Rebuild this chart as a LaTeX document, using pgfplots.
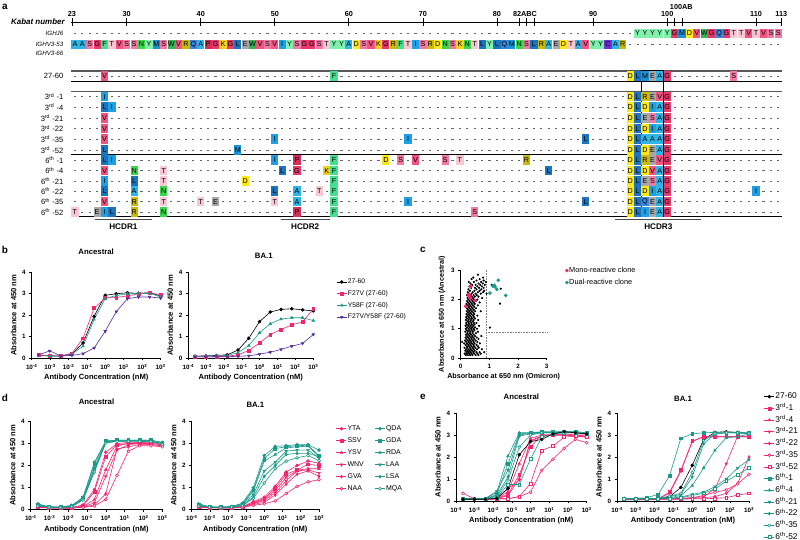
\documentclass[border=0pt]{standalone}
\usepackage{fontspec}
\setmainfont{Liberation Sans}
\usepackage{pgfplots}
\pgfplotsset{compat=1.18}
\usepackage{pgfplotstable}

\definecolor{pinkc}{HTML}{F2266F}
\definecolor{tealc}{HTML}{1B9A8C}
\definecolor{purp}{HTML}{5A2D9C}
\definecolor{rA}{HTML}{2FB4E6}
\definecolor{rC}{HTML}{7030D8}
\definecolor{rD}{HTML}{FFE81A}
\definecolor{rE}{HTML}{A8A8A8}
\definecolor{rF}{HTML}{45E08E}
\definecolor{rG}{HTML}{E8386C}
\definecolor{rI}{HTML}{1FA0E4}
\definecolor{rK}{HTML}{F2D21A}
\definecolor{rL}{HTML}{1C74BC}
\definecolor{rM}{HTML}{1E92D4}
\definecolor{rN}{HTML}{3AD64A}
\definecolor{rP}{HTML}{D42E5A}
\definecolor{rQ}{HTML}{3C86DC}
\definecolor{rR}{HTML}{CDB80C}
\definecolor{rS}{HTML}{F27AA2}
\definecolor{rT}{HTML}{F9C6D4}
\definecolor{rV}{HTML}{F25482}
\definecolor{rW}{HTML}{34B454}
\definecolor{rY}{HTML}{80F0AC}

\newcommand{\rowf}{\fontsize{7.6}{8}\selectfont}
\newcommand{\germf}{\fontsize{6.2}{7}\selectfont\itshape}
\newcommand{\tkf}{\fontsize{7.3}{7.5}\selectfont\bfseries}

\pgfplotsset{
  prism/.style={
    scale only axis, anchor=south west, clip=false,
    axis x line*=bottom, axis y line*=left,
    axis line style={line width=0.8bp, -},
    tick align=outside, major tick length=2.5bp,
    tick style={line width=0.7bp, black},
    tick label style={font=\fontsize{6.3}{6.5}\selectfont\bfseries},
    label style={font=\fontsize{7.6}{8}\selectfont\bfseries},
    title style={font=\fontsize{7.8}{8}\selectfont\bfseries},
    /pgf/number format/assume math mode=true,
    every axis plot/.append style={line width=0.6bp, mark size=1.45bp},
    legend style={draw=none, fill=none, anchor=north west},
    legend cell align=left,
    legend image code/.code={\draw[mark repeat=2,mark phase=2] plot coordinates {(0bp,0bp)(5bp,0bp)(10bp,0bp)};},
  },
  elisa/.style={prism,
    xmin=1e-4, xmax=1e3, ymin=0, ymax=4,
    ytick={0,1,2,3,4},
    xtick={1e-4,1e-3,1e-2,1e-1,1,1e1,1e2,1e3},
    xticklabels={10\textsuperscript{-4},10\textsuperscript{-3},10\textsuperscript{-2},10\textsuperscript{-1},10\textsuperscript{0},10\textsuperscript{1},10\textsuperscript{2},10\textsuperscript{3}},
    xminorticks=false,
    xlabel={Antibody Concentration (nM)},
    ylabel={Absorbance at 450 nm},
    xlabel style={yshift=2bp}, ylabel style={yshift=-1bp},
  },
  dashrow/.style={gray!80!black, line width=0.6bp, dash pattern=on 2.2bp off 5.204bp, dash phase=4.804bp},
}

% ---------- panel b ----------
\pgfplotstableread{
c wt f27v y58f dbl
0.000238 0.12 0.13 0.10 0.15
0.000954 0.10 0.12 0.10 0.33
0.00381 0.08 0.10 0.08 0.10
0.0153 0.20 0.22 0.18 0.12
0.061 0.70 0.92 0.55 0.20
0.244 1.95 2.33 1.80 0.47
0.977 2.93 2.80 2.78 1.25
3.906 3.00 2.83 2.92 2.17
15.63 3.05 2.90 3.00 2.77
62.5 3.02 3.00 3.00 2.85
250 3.05 3.05 3.02 2.85
1000 2.90 2.95 2.85 2.80
}\bAnc
\pgfplotstableread{
c wt f27v y58f dbl
0.000238 0.08 0.05 0.08 0.05
0.000954 0.10 0.05 0.10 0.05
0.00381 0.12 0.06 0.10 0.06
0.0153 0.15 0.08 0.12 0.06
0.061 0.37 0.15 0.25 0.08
0.244 0.92 0.35 0.58 0.10
0.977 1.70 0.70 1.18 0.18
3.906 2.15 1.10 1.60 0.27
15.63 2.27 1.33 1.82 0.40
62.5 2.30 1.55 1.88 0.55
250 2.25 1.68 1.88 0.68
1000 2.20 2.30 1.75 1.10
}\bBA
% ---------- panel d ----------
\pgfplotstableread{
c YTA SSV YSV WNV GVA NAA QDA GDA RDA LAA LSA MQA
0.000238 0.15 0.12 0.10 0.10 0.12 0.15 0.25 0.22 0.20 0.18 0.18 0.15
0.000954 0.08 0.07 0.06 0.06 0.07 0.08 0.12 0.10 0.10 0.10 0.10 0.10
0.00381 0.07 0.06 0.06 0.05 0.06 0.07 0.10 0.10 0.10 0.10 0.08 0.08
0.0153 0.08 0.07 0.06 0.06 0.06 0.07 0.18 0.16 0.15 0.14 0.13 0.12
0.061 0.20 0.15 0.12 0.10 0.10 0.08 0.55 0.52 0.50 0.48 0.45 0.42
0.244 0.90 0.80 0.45 0.30 0.20 0.15 2.15 2.05 1.90 1.80 1.75 1.70
0.977 2.60 2.40 1.80 1.50 0.70 0.45 3.10 3.12 3.08 3.05 3.05 3.02
3.906 3.00 2.95 2.90 2.70 2.75 1.55 3.15 3.15 3.12 3.12 3.10 3.10
15.63 3.05 3.00 3.00 2.95 2.85 2.65 3.15 3.15 3.12 3.12 3.12 3.10
62.5 3.05 3.05 3.00 3.00 2.95 2.90 3.15 3.15 3.15 3.12 3.12 3.10
250 3.00 3.05 3.00 2.95 2.95 2.90 3.15 3.15 3.12 3.10 3.10 3.08
1000 2.95 3.00 2.95 2.90 2.90 2.85 3.05 3.05 3.00 3.00 2.98 2.95
}\dAnc
\pgfplotstableread{
c YTA SSV YSV WNV GVA NAA QDA GDA RDA LAA LSA MQA
0.000238 0.15 0.12 0.10 0.10 0.12 0.10 0.25 0.22 0.20 0.18 0.15 0.15
0.000954 0.10 0.08 0.08 0.07 0.08 0.07 0.12 0.10 0.10 0.10 0.10 0.10
0.00381 0.08 0.07 0.07 0.06 0.07 0.06 0.10 0.10 0.09 0.09 0.08 0.08
0.0153 0.08 0.08 0.07 0.07 0.07 0.06 0.12 0.12 0.11 0.10 0.10 0.10
0.061 0.12 0.11 0.10 0.10 0.09 0.08 0.28 0.25 0.22 0.20 0.18 0.16
0.244 0.35 0.30 0.28 0.25 0.22 0.18 0.98 0.90 0.82 0.67 0.55 0.50
0.977 0.55 0.50 0.45 0.40 0.32 0.25 2.45 2.30 2.20 1.75 1.50 1.20
3.906 1.05 0.95 0.85 0.75 0.65 0.38 2.87 2.77 2.50 2.15 2.00 1.85
15.63 1.70 1.60 1.45 1.30 1.15 0.72 2.90 2.85 2.80 2.65 2.50 2.20
62.5 2.00 1.80 1.78 1.75 1.60 1.05 2.95 2.90 2.85 2.70 2.55 2.35
250 2.20 2.05 1.85 1.80 1.75 1.25 2.95 2.92 2.88 2.70 2.55 2.45
1000 2.10 2.00 1.85 1.65 1.50 1.35 2.70 2.45 2.40 2.33 2.40 2.22
}\dBA
% ---------- panel e ----------
\pgfplotstableread{
c wt r1 r4 r21 r22 r35 r52 s1 s4 s21 s22 s35 s52
0.000238 0.08 0.10 0.10 0.12 0.10 0.35 0.12 0.10 0.10 0.12 0.10 0.10 0.10
0.000954 0.08 0.08 0.08 0.08 0.08 0.10 0.08 0.08 0.08 0.10 0.08 0.08 0.08
0.00381 0.08 0.08 0.08 0.08 0.08 0.08 0.08 0.10 0.10 0.12 0.10 0.10 0.08
0.0153 0.12 0.10 0.10 0.12 0.10 0.10 0.10 0.30 0.40 0.45 0.25 0.20 0.15
0.061 0.58 0.30 0.42 0.55 0.25 0.10 0.10 1.70 2.05 1.40 1.10 0.95 0.75
0.244 2.10 1.20 1.70 0.95 1.00 0.20 0.20 3.05 3.10 3.00 2.95 2.45 0.75
0.977 2.70 2.45 2.85 2.75 2.70 0.40 0.80 3.10 3.10 3.08 3.05 3.00 1.90
3.906 2.80 3.00 3.00 2.95 2.95 1.40 2.30 3.15 3.12 3.10 3.10 3.10 2.90
15.63 3.05 3.00 3.00 3.00 3.00 1.90 2.50 3.15 3.12 3.12 3.10 3.10 3.05
62.5 3.15 3.05 3.00 3.00 3.00 2.40 2.90 3.15 3.15 3.12 3.12 3.10 3.10
250 3.10 3.00 3.00 2.95 2.95 2.80 2.95 3.15 3.15 3.12 3.10 3.10 3.10
1000 3.05 3.00 2.95 2.90 2.95 2.65 2.90 3.10 3.10 3.05 3.05 3.05 3.05
}\eAnc
\pgfplotstableread{
c wt r1 r4 r21 r22 r35 r52 s1 s4 s21 s22 s35 s52
0.000238 0.05 0.12 0.12 0.10 0.10 0.10 0.10 0.10 0.10 0.10 0.10 0.10 0.12
0.000954 0.05 0.10 0.10 0.08 0.08 0.08 0.08 0.12 0.10 0.10 0.10 0.10 0.10
0.00381 0.06 0.08 0.08 0.08 0.08 0.08 0.08 0.15 0.10 0.10 0.10 0.10 0.10
0.0153 0.08 0.10 0.10 0.08 0.08 0.08 0.08 0.30 0.12 0.10 0.12 0.12 0.10
0.061 0.19 0.40 0.35 0.10 0.10 0.10 0.08 1.15 0.15 0.12 0.20 0.22 0.12
0.244 0.62 1.40 1.35 0.12 0.10 0.10 0.08 2.85 0.25 0.18 0.30 0.35 0.15
0.977 1.62 2.72 2.70 0.15 0.12 0.15 0.10 3.05 0.70 0.30 1.10 1.30 0.25
3.906 2.80 2.92 2.92 0.20 0.15 0.25 0.10 3.10 1.50 0.40 2.60 2.75 0.35
15.63 3.12 2.92 2.92 0.55 0.20 0.40 0.12 3.12 2.30 0.65 3.05 3.05 0.55
62.5 3.15 2.92 2.92 1.70 0.35 0.50 0.15 3.12 2.88 1.00 3.10 3.10 0.90
250 3.12 2.92 2.92 2.95 0.80 0.78 0.27 3.12 2.92 1.50 3.10 3.10 1.20
1000 3.07 2.92 2.92 2.95 2.00 1.22 0.35 3.10 3.05 1.88 3.05 3.05 1.50
}\eBA

\begin{document}
\begin{tikzpicture}[x=1bp,y=1bp]
\path[use as bounding box] (0,0) rectangle (800,540);

% ================= panel a =================
\begin{axis}[scale only axis, anchor=south west, at={(71.2bp,308bp)}, width=710.8bp, height=232bp,
  xmin=0.5, xmax=96.5, ymin=0, ymax=232, y dir=reverse, axis lines=none, clip=false]
% dashes
\pgfplotsinvokeforeach{33.5,44.5,76.2,96.7,107.3,118,128.6,139.3,149.9,160.3,170.6,181,191.3,201.6,212}{
  \addplot[dashrow] coordinates {(0.5,#1)(96.5,#1)};
}
% frame lines
\draw[black, line width=0.8bp] (axis cs:0.5,22) -- (axis cs:96.5,22);
\draw[gray!70!black, line width=1.2bp] (axis cs:0.5,71) -- (axis cs:96.5,71);
\draw[black, line width=0.8bp] (axis cs:0.5,81.3) -- (axis cs:96.5,81.3);
\draw[gray!70!black, line width=1.2bp] (axis cs:0.5,91.7) -- (axis cs:96.5,91.7);
\draw[black, line width=0.8bp] (axis cs:0.5,154.5) -- (axis cs:96.5,154.5);
\draw[black, line width=0.8bp] (axis cs:0.5,216.7) -- (axis cs:96.5,216.7);
% residues
\addplot[only marks, mark=none,
  point meta=explicit symbolic, nodes near coords,
  visualization depends on={value \thisrow{aa} \as \rl},
  every node near coord/.append style={anchor=center, fill=r\rl, inner sep=0pt,
    opacity=1, fill opacity=1, text opacity=1,
    minimum width=7.2bp, minimum height=9.6bp, font=\fontsize{7.2}{7.2}\selectfont, text=black}]
table[x=x, y=y, meta=aa] {
x y aa
77 33.5 Y
78 33.5 Y
79 33.5 Y
80 33.5 Y
81 33.5 Y
82 33.5 G
83 33.5 M
84 33.5 D
85 33.5 V
86 33.5 W
87 33.5 G
88 33.5 Q
89 33.5 G
90 33.5 T
91 33.5 T
92 33.5 V
93 33.5 T
94 33.5 V
95 33.5 S
96 33.5 S
1 44.5 A
2 44.5 A
3 44.5 S
4 44.5 G
5 44.5 F
6 44.5 T
7 44.5 V
8 44.5 S
9 44.5 S
10 44.5 N
11 44.5 Y
12 44.5 M
13 44.5 S
14 44.5 W
15 44.5 V
16 44.5 R
17 44.5 Q
18 44.5 A
19 44.5 P
20 44.5 G
21 44.5 K
22 44.5 G
23 44.5 L
24 44.5 E
25 44.5 W
26 44.5 V
27 44.5 S
28 44.5 V
29 44.5 I
30 44.5 Y
31 44.5 S
32 44.5 G
33 44.5 G
34 44.5 S
35 44.5 T
36 44.5 Y
37 44.5 Y
38 44.5 A
39 44.5 D
40 44.5 S
41 44.5 V
42 44.5 K
43 44.5 G
44 44.5 R
45 44.5 F
46 44.5 T
47 44.5 I
48 44.5 S
49 44.5 R
50 44.5 D
51 44.5 N
52 44.5 S
53 44.5 K
54 44.5 N
55 44.5 T
56 44.5 L
57 44.5 Y
58 44.5 L
59 44.5 Q
60 44.5 M
61 44.5 N
62 44.5 S
63 44.5 L
64 44.5 R
65 44.5 A
66 44.5 E
67 44.5 D
68 44.5 T
69 44.5 A
70 44.5 V
71 44.5 Y
72 44.5 Y
73 44.5 C
74 44.5 A
75 44.5 R
5 76.2 V
36 76.2 F
76 76.2 D
77 76.2 L
78 76.2 M
79 76.2 E
80 76.2 A
81 76.2 G
90 76.2 S
5 96.7 I
76 96.7 D
77 96.7 L
78 96.7 R
79 96.7 E
80 96.7 V
81 96.7 G
5 107.3 L
6 107.3 I
76 107.3 D
77 107.3 L
78 107.3 D
79 107.3 I
80 107.3 A
81 107.3 G
5 118 V
76 118 D
77 118 L
78 118 E
79 118 S
80 118 A
81 118 G
5 128.6 V
76 128.6 D
77 128.6 L
78 128.6 D
79 128.6 I
80 128.6 A
81 128.6 G
5 139.3 V
28 139.3 I
46 139.3 I
70 139.3 L
76 139.3 D
77 139.3 L
78 139.3 A
79 139.3 A
80 139.3 A
81 139.3 G
5 149.9 L
23 149.9 M
76 149.9 D
77 149.9 L
78 149.9 D
79 149.9 E
80 149.9 A
81 149.9 G
5 160.3 L
6 160.3 I
28 160.3 I
31 160.3 P
36 160.3 F
43 160.3 D
45 160.3 S
47 160.3 V
51 160.3 S
53 160.3 T
62 160.3 R
76 160.3 D
77 160.3 L
78 160.3 R
79 160.3 E
80 160.3 V
81 160.3 G
5 170.6 V
9 170.6 N
13 170.6 T
29 170.6 L
31 170.6 G
35 170.6 K
36 170.6 F
65 170.6 L
76 170.6 D
77 170.6 L
78 170.6 D
79 170.6 V
80 170.6 A
81 170.6 G
5 181 I
9 181 L
13 181 T
24 181 D
36 181 F
76 181 D
77 181 L
78 181 E
79 181 S
80 181 A
81 181 G
5 191.3 L
9 191.3 A
13 191.3 N
28 191.3 L
31 191.3 A
34 191.3 T
36 191.3 F
93 191.3 I
76 191.3 D
77 191.3 L
78 191.3 D
79 191.3 I
80 191.3 A
81 191.3 G
5 201.6 V
9 201.6 R
13 201.6 T
18 201.6 T
20 201.6 E
28 201.6 T
31 201.6 A
36 201.6 F
46 201.6 I
70 201.6 L
76 201.6 D
77 201.6 L
78 201.6 Q
79 201.6 E
80 201.6 A
81 201.6 G
1 212 T
4 212 E
5 212 I
6 212 L
9 212 R
13 212 N
31 212 P
36 212 F
55 212 S
76 212 D
77 212 L
78 212 I
79 212 E
80 212 A
81 212 G
};
% CDR3 box
\draw[black, line width=1.1bp] (axis cs:77.5,71) rectangle (axis cs:80.5,216.7);
% Kabat ruler ticks
\pgfplotsinvokeforeach{0.6,8,18,28,38,48,58,61,62,63,71,81,82,83,93,96.4}{
  \draw[black, line width=0.8bp] (axis cs:#1,18.3) -- (axis cs:#1,25.7);
}
\node[font=\tkf] at (axis cs:0.6,14.4) {23};
\node[font=\tkf] at (axis cs:8,14.4) {30};
\node[font=\tkf] at (axis cs:18,14.4) {40};
\node[font=\tkf] at (axis cs:28,14.4) {50};
\node[font=\tkf] at (axis cs:38,14.4) {60};
\node[font=\tkf] at (axis cs:48,14.4) {70};
\node[font=\tkf] at (axis cs:58,14.4) {80};
\node[font=\tkf] at (axis cs:61.8,14.4) {82ABC};
\node[font=\tkf] at (axis cs:71,14.4) {90};
\node[font=\tkf] at (axis cs:81,14.4) {100};
\node[font=\tkf] at (axis cs:93,14.4) {110};
\node[font=\tkf] at (axis cs:96.4,14.4) {113};
\node[font=\tkf] at (axis cs:82.9,7.2) {100AB};
\node[anchor=east, font=\fontsize{8}{8}\selectfont\bfseries\itshape] at (axis cs:0.1,22) {Kabat number};
% row labels
\node[anchor=east, font=\germf] at (axis cs:-0.1,33.5) {IGHJ6};
\node[anchor=east, font=\germf] at (axis cs:-0.1,44.5) {IGHV3-53};
\node[anchor=east, font=\germf] at (axis cs:-0.1,53.5) {IGHV3-66};
\node[anchor=east, font=\rowf] at (axis cs:-0.1,76.2) {27-60};
\node[anchor=east, font=\rowf] at (axis cs:-0.1,96.7) {3\textsuperscript{rd} -1};
\node[anchor=east, font=\rowf] at (axis cs:-0.1,107.3) {3\textsuperscript{rd} -4};
\node[anchor=east, font=\rowf] at (axis cs:-0.1,118) {3\textsuperscript{rd} -21};
\node[anchor=east, font=\rowf] at (axis cs:-0.1,128.6) {3\textsuperscript{rd} -22};
\node[anchor=east, font=\rowf] at (axis cs:-0.1,139.3) {3\textsuperscript{rd} -35};
\node[anchor=east, font=\rowf] at (axis cs:-0.1,149.9) {3\textsuperscript{rd} -52};
\node[anchor=east, font=\rowf] at (axis cs:-0.1,160.3) {6\textsuperscript{th} -1};
\node[anchor=east, font=\rowf] at (axis cs:-0.1,170.6) {6\textsuperscript{th} -4};
\node[anchor=east, font=\rowf] at (axis cs:-0.1,181) {6\textsuperscript{th} -21};
\node[anchor=east, font=\rowf] at (axis cs:-0.1,191.3) {6\textsuperscript{th} -22};
\node[anchor=east, font=\rowf] at (axis cs:-0.1,201.6) {6\textsuperscript{th} -35};
\node[anchor=east, font=\rowf] at (axis cs:-0.1,212) {6\textsuperscript{th} -52};
% HCDR bars
\draw[gray!60!black, line width=1.4bp] (axis cs:3.7,219.5) -- (axis cs:11.4,219.5);
\draw[gray!60!black, line width=1.4bp] (axis cs:28.8,219.5) -- (axis cs:35.4,219.5);
\draw[gray!60!black, line width=1.4bp] (axis cs:74.0,219.5) -- (axis cs:85.6,219.5);
\node[font=\fontsize{8.2}{8.5}\selectfont\bfseries] at (axis cs:7.55,226.8) {HCDR1};
\node[font=\fontsize{8.2}{8.5}\selectfont\bfseries] at (axis cs:32.1,226.8) {HCDR2};
\node[font=\fontsize{8.2}{8.5}\selectfont\bfseries] at (axis cs:79.8,226.8) {HCDR3};
\end{axis}

% ================= panel b =================
\begin{semilogxaxis}[elisa, at={(31.7bp,182bp)}, width=129bp, height=85.6bp,
  title={Ancestral}, title style={yshift=8bp}]
\addplot[black, mark=*] table[x=c,y=wt]{\bAnc};
\addplot[pinkc, mark=square*] table[x=c,y=f27v]{\bAnc};
\addplot[tealc, mark=triangle*] table[x=c,y=y58f]{\bAnc};
\addplot[purp, mark=triangle*, mark options={rotate=180}] table[x=c,y=dbl]{\bAnc};
\end{semilogxaxis}
\begin{semilogxaxis}[elisa, at={(188.3bp,182bp)}, width=125bp, height=85.6bp,
  title={BA.1}, title style={yshift=4bp, xshift=13bp},
  legend style={at={(1.16,0.96)}, row sep=3.8bp, font=\fontsize{6.8}{7}\selectfont,
    nodes={inner sep=0.8bp, text height=4.9bp, text depth=1.4bp}}]
\addplot[black, mark=*] table[x=c,y=wt]{\bBA};
\addlegendentry{27-60}
\addplot[pinkc, mark=square*] table[x=c,y=f27v]{\bBA};
\addlegendentry{F27V (27-60)}
\addplot[tealc, mark=triangle*] table[x=c,y=y58f]{\bBA};
\addlegendentry{Y58F (27-60)}
\addplot[purp, mark=triangle*, mark options={rotate=180}] table[x=c,y=dbl]{\bBA};
\addlegendentry{F27V/Y58F (27-60)}
\end{semilogxaxis}

% ================= panel c =================
\begin{axis}[prism, at={(460.7bp,182bp)}, width=86bp, height=87.7bp,
  xmin=0, xmax=3, ymin=0, ymax=3, xtick={0,1,2,3}, ytick={0,1,2,3},
  xlabel={Absorbance at 650 nm (Omicron)}, ylabel={Absorbance at 650 nm (Ancestral)},
  xlabel style={yshift=2bp}, ylabel style={yshift=-1bp},
  label style={font=\fontsize{7.2}{7.5}\selectfont\bfseries},
  legend style={at={(1.18,1.07)}, row sep=3.5bp, font=\fontsize{7.4}{7.5}\selectfont,
    nodes={inner sep=0.8bp, text height=5.4bp, text depth=1.5bp}},
  legend image code/.code={\draw plot coordinates {(3bp,0bp)};}]
\addplot[gray, densely dotted, line width=0.7bp, forget plot] coordinates {(0.88,0)(0.88,3.05)};
\addplot[gray, densely dotted, line width=0.7bp, forget plot] coordinates {(0.88,0.87)(3,0.87)};
\addplot[only marks, black, mark=*, mark size=0.75bp, forget plot] coordinates {
(0.18,0.10)(0.25,0.10)(0.33,0.10)(0.41,0.10)(0.52,0.10)(0.62,0.10)
(0.14,0.15)(0.22,0.15)(0.30,0.15)(0.38,0.15)(0.47,0.15)(0.58,0.15)(0.70,0.15)
(0.20,0.20)(0.27,0.20)(0.35,0.20)(0.44,0.20)(0.55,0.20)(0.66,0.20)(0.82,0.20)
(0.16,0.25)(0.24,0.25)(0.31,0.25)(0.40,0.25)(0.49,0.25)
(0.19,0.30)(0.28,0.30)(0.36,0.30)(0.45,0.30)(0.57,0.30)(0.74,0.30)
(0.13,0.35)(0.23,0.35)(0.33,0.35)(0.42,0.35)(0.51,0.35)(0.63,0.35)
(0.21,0.40)(0.29,0.40)(0.38,0.40)(0.47,0.40)(0.60,0.40)
(0.17,0.45)(0.26,0.45)(0.34,0.45)(0.44,0.45)(0.55,0.45)
(0.12,0.50)(0.22,0.50)(0.31,0.50)(0.39,0.50)(0.48,0.50)(0.67,0.50)
(0.05,0.55)(0.19,0.55)(0.28,0.55)(0.36,0.55)(0.45,0.55)(0.58,0.55)
(0.15,0.60)(0.24,0.60)(0.33,0.60)(0.42,0.60)(0.52,0.60)
(0.20,0.65)(0.29,0.65)(0.38,0.65)(0.47,0.65)(0.62,0.65)
(0.17,0.70)(0.26,0.70)(0.35,0.70)(0.44,0.70)(0.56,0.70)
(0.22,0.75)(0.31,0.75)(0.40,0.75)(0.50,0.75)(0.72,0.75)
(0.18,0.80)(0.27,0.80)(0.36,0.80)(0.46,0.80)
(0.23,0.85)(0.32,0.85)(0.41,0.85)(0.53,0.85)
(0.16,0.90)(0.25,0.90)(0.34,0.90)(0.43,0.90)(0.60,0.90)
(0.21,0.95)(0.30,0.95)(0.39,0.95)(0.48,0.95)
(0.18,1.00)(0.27,1.00)(0.36,1.00)(0.45,1.00)(0.57,1.00)
(0.22,1.05)(0.31,1.05)(0.40,1.05)(0.50,1.05)
(0.17,1.10)(0.26,1.10)(0.35,1.10)(0.44,1.10)(0.64,1.10)
(0.21,1.15)(0.30,1.15)(0.39,1.15)(0.48,1.15)
(0.19,1.20)(0.28,1.20)(0.37,1.20)(0.46,1.20)(0.55,1.20)
(0.24,1.25)(0.33,1.25)(0.42,1.25)
(0.18,1.30)(0.27,1.30)(0.36,1.30)(0.45,1.30)(0.61,1.30)
(0.22,1.35)(0.31,1.35)(0.40,1.35)(0.50,1.35)
(0.19,1.40)(0.28,1.40)(0.37,1.40)(0.46,1.40)
(0.24,1.45)(0.33,1.45)(0.43,1.45)(0.58,1.45)
(0.20,1.50)(0.29,1.50)(0.38,1.50)(0.47,1.50)
(0.25,1.55)(0.34,1.55)(0.44,1.55)
(0.21,1.60)(0.30,1.60)(0.39,1.60)(0.50,1.60)(0.70,1.60)
(0.26,1.65)(0.35,1.65)(0.45,1.65)
(0.22,1.70)(0.31,1.70)(0.41,1.70)(0.53,1.70)
(0.28,1.75)(0.37,1.75)(0.47,1.75)
(0.24,1.80)(0.33,1.80)(0.43,1.80)(0.60,1.80)
(0.20,1.85)(0.29,1.85)(0.39,1.85)(0.49,1.85)
(0.25,1.90)(0.35,1.90)(0.45,1.90)(0.66,1.90)
(0.22,1.95)(0.31,1.95)(0.41,1.95)(0.52,1.95)
(0.27,2.00)(0.37,2.00)(0.46,2.00)(0.58,2.00)
(0.24,2.05)(0.33,2.05)(0.43,2.05)(0.75,2.05)
(0.29,2.10)(0.39,2.10)(0.49,2.10)(0.62,2.10)
(0.22,2.15)(0.35,2.15)(0.45,2.15)(0.56,2.15)
(0.28,2.20)(0.38,2.20)(0.52,2.20)(0.70,2.20)
(0.25,2.25)(0.42,2.25)(0.60,2.25)(0.78,2.25)
(0.32,2.30)(0.48,2.30)(0.66,2.30)(0.82,2.30)
(0.27,2.35)(0.55,2.35)(0.72,2.35)
(0.36,2.40)(0.50,2.40)(0.64,2.40)(0.80,2.40)
(0.30,2.45)(0.58,2.45)(0.74,2.45)
(0.40,2.50)(0.52,2.50)(0.68,2.50)(0.84,2.50)
(0.34,2.55)(0.62,2.55)(0.77,2.55)
(0.28,2.60)(0.46,2.60)(0.71,2.60)
(0.55,2.65)(0.80,2.65)(0.38,2.70)(0.66,2.70)(0.44,2.75)(0.78,2.75)(0.60,2.85)
(1.02,1.04)(1.37,1.86)(1.08,2.50)(1.40,2.37)(0.88,2.60)(0.90,2.20)
};
\addplot[only marks, pinkc, mark=*, mark size=1.5bp] coordinates {
(0.17,1.77)(0.27,2.14)(0.30,2.09)(0.35,2.45)(0.33,2.03)(0.50,1.97)(0.29,2.18)(0.32,2.12)};
\addlegendentry{Mono-reactive clone}
\addplot[only marks, tealc, mark=*, mark size=1.5bp] coordinates {
(1.02,2.22)(1.12,2.46)(1.20,2.43)(1.26,2.35)(1.31,2.66)(1.57,2.14)(1.17,2.49)};
\addlegendentry{Dual-reactive clone}
\end{axis}

% ================= panel d =================
\begin{semilogxaxis}[elisa, at={(30.7bp,30.7bp)}, width=131.6bp, height=87.7bp,
  title={Ancestral}, title style={yshift=8bp}]
\addplot[pinkc, mark=*] table[x=c,y=YTA]{\dAnc};
\addplot[pinkc, mark=square*] table[x=c,y=SSV]{\dAnc};
\addplot[pinkc, mark=triangle*] table[x=c,y=YSV]{\dAnc};
\addplot[pinkc, mark=triangle*, mark options={rotate=180}] table[x=c,y=WNV]{\dAnc};
\addplot[pinkc, mark=diamond*] table[x=c,y=GVA]{\dAnc};
\addplot[pinkc, mark=*, mark options={fill=white}] table[x=c,y=NAA]{\dAnc};
\addplot[tealc, mark=*] table[x=c,y=QDA]{\dAnc};
\addplot[tealc, mark=square*] table[x=c,y=GDA]{\dAnc};
\addplot[tealc, mark=triangle*] table[x=c,y=RDA]{\dAnc};
\addplot[tealc, mark=triangle*, mark options={rotate=180}] table[x=c,y=LAA]{\dAnc};
\addplot[tealc, mark=diamond*] table[x=c,y=LSA]{\dAnc};
\addplot[tealc, mark=*, mark options={fill=white}] table[x=c,y=MQA]{\dAnc};
\end{semilogxaxis}
\begin{semilogxaxis}[elisa, at={(191.7bp,30.7bp)}, width=127.3bp, height=87.7bp,
  title={BA.1}, title style={yshift=5bp},
  legend columns=2,
  legend style={at={(1.11,0.99)}, row sep=3.9bp, font=\fontsize{7}{7}\selectfont,
    nodes={inner sep=0.8bp, text height=5.1bp, text depth=1.4bp},
    /tikz/every even column/.append style={column sep=10bp}}]
\addplot[pinkc, mark=*] table[x=c,y=YTA]{\dBA};\addlegendentry{YTA}
\addplot[tealc, mark=*] table[x=c,y=QDA]{\dBA};\addlegendentry{QDA}
\addplot[pinkc, mark=square*] table[x=c,y=SSV]{\dBA};\addlegendentry{SSV}
\addplot[tealc, mark=square*] table[x=c,y=GDA]{\dBA};\addlegendentry{GDA}
\addplot[pinkc, mark=triangle*] table[x=c,y=YSV]{\dBA};\addlegendentry{YSV}
\addplot[tealc, mark=triangle*] table[x=c,y=RDA]{\dBA};\addlegendentry{RDA}
\addplot[pinkc, mark=triangle*, mark options={rotate=180}] table[x=c,y=WNV]{\dBA};\addlegendentry{WNV}
\addplot[tealc, mark=triangle*, mark options={rotate=180}] table[x=c,y=LAA]{\dBA};\addlegendentry{LAA}
\addplot[pinkc, mark=diamond*] table[x=c,y=GVA]{\dBA};\addlegendentry{GVA}
\addplot[tealc, mark=diamond*] table[x=c,y=LSA]{\dBA};\addlegendentry{LSA}
\addplot[pinkc, mark=*, mark options={fill=white}] table[x=c,y=NAA]{\dBA};\addlegendentry{NAA}
\addplot[tealc, mark=*, mark options={fill=white}] table[x=c,y=MQA]{\dBA};\addlegendentry{MQA}
\end{semilogxaxis}

% ================= panel e =================
\begin{semilogxaxis}[elisa, at={(456bp,39bp)}, width=130.7bp, height=88bp,
  title={Ancestral}, title style={yshift=4bp}]
\addplot[pinkc, mark=square*] table[x=c,y=r1]{\eAnc};
\addplot[pinkc, mark=triangle*] table[x=c,y=r4]{\eAnc};
\addplot[pinkc, mark=triangle*, mark options={rotate=180}] table[x=c,y=r21]{\eAnc};
\addplot[pinkc, mark=diamond*] table[x=c,y=r22]{\eAnc};
\addplot[pinkc, mark=*, mark options={fill=white}] table[x=c,y=r35]{\eAnc};
\addplot[pinkc, mark=square*, mark options={fill=white}] table[x=c,y=r52]{\eAnc};
\addplot[tealc, mark=square*] table[x=c,y=s1]{\eAnc};
\addplot[tealc, mark=triangle*] table[x=c,y=s4]{\eAnc};
\addplot[tealc, mark=triangle*, mark options={rotate=180}] table[x=c,y=s21]{\eAnc};
\addplot[tealc, mark=diamond*] table[x=c,y=s22]{\eAnc};
\addplot[tealc, mark=*, mark options={fill=white}] table[x=c,y=s35]{\eAnc};
\addplot[tealc, mark=square*, mark options={fill=white}] table[x=c,y=s52]{\eAnc};
\addplot[black, mark=*] table[x=c,y=wt]{\eAnc};
\end{semilogxaxis}
\begin{semilogxaxis}[elisa, at={(617bp,39bp)}, width=132bp, height=88bp,
  title={BA.1}, title style={yshift=2bp},
  legend style={at={(1.09,1.265)}, row sep=2.1bp, font=\fontsize{8.4}{8.5}\selectfont,
    nodes={inner sep=0.8bp, text height=6.2bp, text depth=1.8bp}}]
\addplot[black, mark=*] table[x=c,y=wt]{\eBA};\addlegendentry{27-60}
\addplot[pinkc, mark=square*] table[x=c,y=r1]{\eBA};\addlegendentry{3\textsuperscript{rd}-1}
\addplot[pinkc, mark=triangle*] table[x=c,y=r4]{\eBA};\addlegendentry{3\textsuperscript{rd}-4}
\addplot[pinkc, mark=triangle*, mark options={rotate=180}] table[x=c,y=r21]{\eBA};\addlegendentry{3\textsuperscript{rd}-21}
\addplot[pinkc, mark=diamond*] table[x=c,y=r22]{\eBA};\addlegendentry{3\textsuperscript{rd}-22}
\addplot[pinkc, mark=*, mark options={fill=white}] table[x=c,y=r35]{\eBA};\addlegendentry{3\textsuperscript{rd}-35}
\addplot[pinkc, mark=square*, mark options={fill=white}] table[x=c,y=r52]{\eBA};\addlegendentry{3\textsuperscript{rd}-52}
\addplot[tealc, mark=square*] table[x=c,y=s1]{\eBA};\addlegendentry{6\textsuperscript{th}-1}
\addplot[tealc, mark=triangle*] table[x=c,y=s4]{\eBA};\addlegendentry{6\textsuperscript{th}-4}
\addplot[tealc, mark=triangle*, mark options={rotate=180}] table[x=c,y=s21]{\eBA};\addlegendentry{6\textsuperscript{th}-21}
\addplot[tealc, mark=diamond*] table[x=c,y=s22]{\eBA};\addlegendentry{6\textsuperscript{th}-22}
\addplot[tealc, mark=*, mark options={fill=white}] table[x=c,y=s35]{\eBA};\addlegendentry{6\textsuperscript{th}-35}
\addplot[tealc, mark=square*, mark options={fill=white}] table[x=c,y=s52]{\eBA};\addlegendentry{6\textsuperscript{th}-52}
\end{semilogxaxis}

% panel letters
\node[font=\fontsize{10}{10}\selectfont\bfseries] at (5,533) {a};
\node[font=\fontsize{10}{10}\selectfont\bfseries] at (5,290) {b};
\node[font=\fontsize{10}{10}\selectfont\bfseries] at (423,290) {c};
\node[font=\fontsize{10}{10}\selectfont\bfseries] at (5,142) {d};
\node[font=\fontsize{10}{10}\selectfont\bfseries] at (423,143) {e};
\end{tikzpicture}
\end{document}
